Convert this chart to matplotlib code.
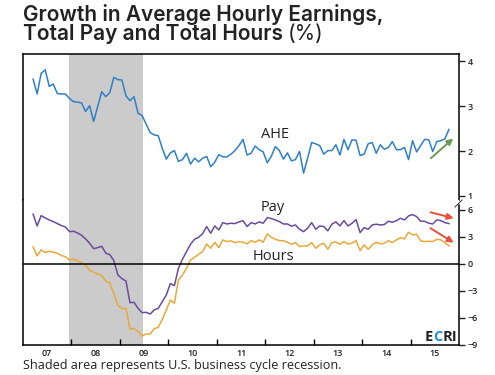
import numpy as np
import matplotlib
matplotlib.use('Agg')
import matplotlib.pyplot as plt

# monthly yoy growth (%), Mar 2007 .. Oct 2015
start_year, start_month = 2007, 3
ahe = [3.60, 3.27, 3.73, 3.81, 3.44, 3.49, 3.28, 3.27, 3.27, 3.17,
       3.10, 3.09, 3.07, 2.88, 3.01, 2.66, 2.99, 3.32, 3.21, 3.30,
       3.64, 3.59, 3.58, 3.23, 3.12, 3.21, 2.84, 2.79, 2.60, 2.41,
       2.36, 2.34, 2.06, 1.82, 1.96, 2.01, 1.77, 1.81, 1.95, 1.71,
       1.84, 1.76, 1.84, 1.88, 1.65, 1.75, 1.92, 1.87, 1.87, 1.93,
       2.01, 2.12, 2.26, 1.91, 1.95, 2.11, 2.03, 1.98, 1.74, 1.88,
       2.10, 2.01, 1.82, 1.96, 1.78, 1.81, 1.99, 1.51, 1.84, 2.19,
       2.16, 2.12, 1.93, 2.01, 2.01, 2.14, 1.91, 2.26, 2.03, 2.25,
       2.24, 1.90, 1.93, 2.16, 2.19, 1.95, 2.14, 2.04, 2.08, 2.21,
       2.03, 2.03, 2.08, 1.81, 2.23, 1.98, 2.12, 2.26, 2.25, 1.99,
       2.21, 2.23, 2.27, 2.48]
pay = [5.52, 4.22, 5.37, 5.11, 4.89, 4.70, 4.48, 4.26, 4.11, 3.59,
       3.63, 3.44, 3.19, 2.78, 2.30, 1.70, 1.81, 1.96, 1.19, 1.04,
       0.37, -1.22, -1.63, -1.89, -4.30, -4.26, -4.93, -5.41, -5.37, -5.56,
       -5.11, -4.93, -4.19, -3.44, -2.18, -2.41, -0.48, 0.52, 1.37, 2.19,
       2.74, 2.96, 3.37, 4.15, 3.41, 4.22, 3.78, 4.59, 4.44, 4.52,
       4.48, 4.67, 4.81, 4.15, 4.59, 4.44, 4.67, 4.52, 5.15, 5.04,
       4.89, 4.70, 4.44, 4.44, 4.19, 4.33, 3.85, 3.59, 3.96, 4.59,
       3.85, 4.22, 4.15, 3.67, 4.41, 4.67, 4.22, 4.81, 4.22, 4.52,
       4.93, 3.48, 4.04, 3.85, 4.33, 4.41, 4.33, 4.37, 4.74, 4.63,
       4.81, 5.07, 4.89, 5.33, 5.48, 5.26, 4.74, 4.74, 4.52, 4.44,
       4.89, 4.81, 4.59, 4.48]
hours = [1.89, 0.89, 1.56, 1.26, 1.41, 1.30, 1.19, 0.93, 0.81, 0.44,
         0.52, 0.37, 0.15, -0.15, -0.70, -0.93, -1.11, -1.30, -1.89, -2.11,
         -3.26, -4.59, -4.96, -4.93, -7.19, -7.19, -7.48, -8.00, -7.78, -7.78,
         -7.19, -7.04, -6.15, -5.11, -4.00, -4.37, -1.78, -1.22, -0.48, 0.44,
         0.74, 1.07, 1.37, 2.22, 1.74, 2.41, 1.81, 2.67, 2.48, 2.56,
         2.37, 2.48, 2.41, 2.22, 2.59, 2.41, 2.67, 2.41, 3.33, 2.96,
         2.74, 2.59, 2.59, 2.41, 2.19, 2.37, 1.93, 2.00, 2.00, 2.37,
         1.74, 2.11, 2.30, 1.63, 2.37, 2.44, 2.19, 2.48, 2.22, 2.30,
         2.59, 1.48, 2.11, 1.63, 2.11, 2.41, 2.22, 2.30, 2.59, 2.37,
         2.67, 2.93, 2.78, 3.52, 3.22, 3.30, 2.56, 2.48, 2.52, 2.48,
         2.74, 2.67, 2.37, 2.00]
recession = (2007.95, 2009.48)
year_labels = ['07', '08', '09', '10', '11', '12', '13', '14', '15']

AHE_C = '#2f80c6'
PAY_C = '#6a4c9e'
HRS_C = '#e9a93a'
TXT_C = '#222222'
FONT = 'Open Sans'
TITLE_FONT = 'Inter'

W, H = 495, 375


def fx(px):
    return px / W


def fy(py):
    return 1 - py / H


def width_px(txt):
    fig.canvas.draw()
    return txt.get_window_extent().width


x = start_year + (start_month - 1 + np.arange(len(ahe)) + 0.5) / 12

fig = plt.figure(figsize=(W / 100, H / 100), dpi=100)
ax1 = fig.add_axes([fx(23), fy(200), 436 / W, 146 / H])
ax2 = fig.add_axes([fx(23), fy(345), 436 / W, 145 / H])

for ax in (ax1, ax2):
    ax.axvspan(*recession, color='#cbcbcb', lw=0, zorder=0)
    ax.set_xlim(2007, 2016)
    ax.set_xticks(range(2008, 2016))
    ax.set_xticks([y + 0.5 for y in range(2007, 2016)], minor=True)
    ax.yaxis.tick_right()
    ax.tick_params(axis='y', direction='out', length=4, width=1,
                   labelsize=6.5, pad=2, colors=TXT_C)
    for s in ax.spines.values():
        s.set_linewidth(1.1)

ax1.plot(x, ahe, color=AHE_C, lw=1.1)
ax1.set_ylim(0.91, 4.16)
ax1.set_yticks([1, 2, 3, 4])
ax1.spines['bottom'].set_visible(False)
ax1.tick_params(axis='x', which='both', bottom=False, labelbottom=False)

ax2.plot(x, pay, color=PAY_C, lw=1.1)
ax2.plot(x, hours, color=HRS_C, lw=1.1)
ax2.axhline(0, color='black', lw=1.1)
ax2.set_ylim(-9, 7.1)
ax2.set_yticks([-9, -6, -3, 0, 3, 6])
ax2.spines['top'].set_visible(False)
ax2.spines['right'].set_bounds(-9, 6.5)
ax2.tick_params(axis='x', which='major', direction='in', length=4, width=1,
                labelbottom=False)
ax2.tick_params(axis='x', which='minor', length=0, labelsize=6.5, pad=3,
                colors=TXT_C)
ax2.set_xticklabels(year_labels, minor=True)

for ax in (ax1, ax2):
    for lab in ax.get_yticklabels() + ax.get_xticklabels(minor=True):
        lab.set_family(FONT)
        lab.set_weight('semibold')

# break mark on the right axis
fig.add_artist(plt.Line2D([fx(455), fx(462)], [fy(207), fy(200)],
                          color='#444444', lw=0.8))

# series labels
lab_kw = dict(ha='center', va='center', fontsize=10.5, color=TXT_C,
              family=FONT, weight='medium')
ax1.text(2012.2, 2.36, 'AHE', **lab_kw)
ax2.text(2012.16, 6.3, 'Pay', **lab_kw)
ax2.text(2012.16, 0.85, 'Hours', **lab_kw)

# trend arrows
arrow_kw = dict(arrowstyle='-|>', lw=1.4, mutation_scale=9, shrinkA=0, shrinkB=0)
ax1.annotate('', xy=(2015.88, 2.28), xytext=(2015.42, 1.84),
             arrowprops=dict(color='#6a9a52', **arrow_kw))
ax2.annotate('', xy=(2015.89, 5.08), xytext=(2015.41, 5.74),
             arrowprops=dict(color='#e8503a', **arrow_kw))
ax2.annotate('', xy=(2015.89, 2.37), xytext=(2015.41, 3.97),
             arrowprops=dict(color='#e8503a', **arrow_kw))

# title
fs = 15
t2 = fig.text(fx(23), fy(40), 'Total Pay and Total Hours ', ha='left',
              va='baseline', fontsize=fs, weight='semibold', color=TXT_C,
              family=TITLE_FONT)
pct = fig.text(fx(23) + width_px(t2) / W, fy(40), '(%)', ha='left',
               va='baseline', fontsize=fs, color=TXT_C, family=TITLE_FONT)
fig.text(fx(23), fy(21), 'Growth in Average Hourly Earnings,', ha='left',
         va='baseline', fontsize=fs, weight='semibold', color=TXT_C,
         family=TITLE_FONT)

# footnote
foot = fig.text(fx(23), fy(369), 'Shaded area represents U.S. business cycle recession.',
                ha='left', va='baseline', fontsize=8, color=TXT_C, family=FONT)
foot.set_fontsize(8 * 320 / width_px(foot))

# ECRI mark
e = fig.text(fx(425), fy(341), 'E', ha='left', va='baseline', fontsize=10.5,
             weight='bold', color=TXT_C, family=FONT)
c = fig.text(fx(425) + width_px(e) / W, fy(341), 'C', ha='left', va='baseline',
             fontsize=10.5, weight='bold', color='#1e8fd8', family=FONT)
fig.text(c.get_position()[0] + width_px(c) / W, fy(341), 'RI', ha='left',
         va='baseline', fontsize=10.5, weight='bold', color=TXT_C, family=FONT)

fig.savefig('out.png', dpi=100)
